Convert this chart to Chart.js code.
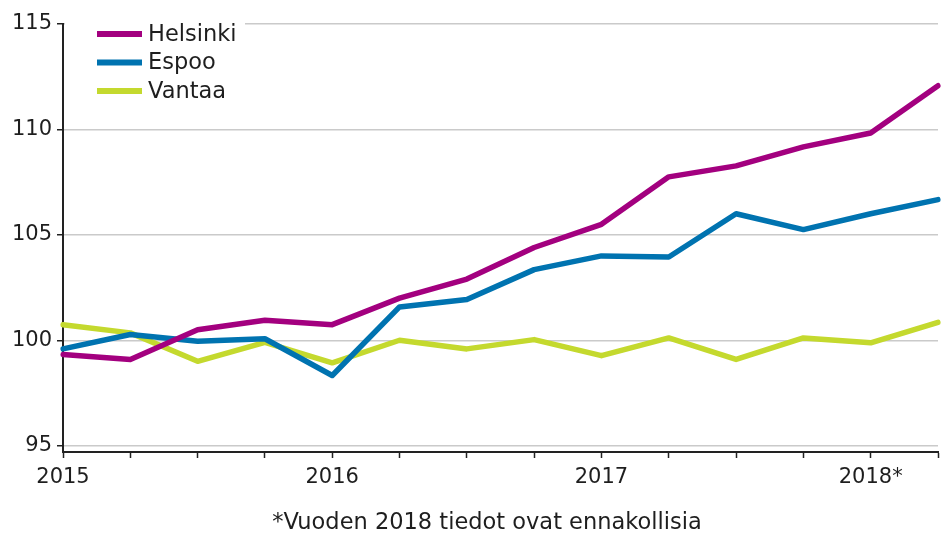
<!DOCTYPE html>
<html>
<head>
<meta charset="utf-8">
<script src="https://cdn.jsdelivr.net/npm/chart.js@4/dist/chart.umd.min.js"></script>
<style>
  html, body { margin: 0; padding: 0; background: #fff; }
  #wrap { width: 949px; height: 545px; }
</style>
</head>
<body>
<div id="wrap"><canvas id="chart" width="949" height="545"></canvas></div>
<script>
// quarterly index, 2015Q1 .. 2018Q2
var quarters = ['2015Q1', '2015Q2', '2015Q3', '2015Q4', '2016Q1', '2016Q2', '2016Q3', '2016Q4',
                '2017Q1', '2017Q2', '2017Q3', '2017Q4', '2018Q1', '2018Q2'];
var tickLabels = ['2015', '', '', '', '2016', '', '', '', '2017', '', '', '', '2018*', ''];
var helsinki = [99.32, 99.09, 100.5, 100.95, 100.74, 102.0, 102.9, 104.4, 105.5, 107.75, 108.27, 109.17, 109.83, 112.07];
var espoo = [99.59, 100.27, 99.95, 100.07, 98.33, 101.58, 101.93, 103.35, 104.0, 103.95, 106.0, 105.25, 106.0, 106.67];
var vantaa = [100.74, 100.35, 99.0, 99.9, 98.93, 100.0, 99.59, 100.03, 99.27, 100.11, 99.09, 100.11, 99.88, 100.85];
var yTicks = [95, 100, 105, 110, 115];
var footnote = '*Vuoden 2018 tiedot ovat ennakollisia';

var FONT = 'DejaVu Sans';
var TEXT = '#1e1e1e';

var overlay = {
    id: 'overlay',
    afterDraw: function(chart) {
        var ctx = chart.ctx;
        var area = chart.chartArea;
        ctx.save();
        // legend box sits over the top gridline
        ctx.fillStyle = '#ffffff';
        ctx.fillRect(area.left + 2, 14, 180, 95);
        ctx.font = '22.5px "' + FONT + '"';
        ctx.textBaseline = 'middle';
        chart.data.datasets.forEach(function(ds, i) {
            var y = 34 + i * 28.5;
            ctx.strokeStyle = ds.borderColor;
            ctx.lineWidth = 6;
            ctx.beginPath();
            ctx.moveTo(97, y);
            ctx.lineTo(142, y);
            ctx.stroke();
            ctx.fillStyle = TEXT;
            ctx.fillText(ds.label, 148, y + 1);
        });
        ctx.textAlign = 'center';
        ctx.font = '22.5px "' + FONT + '"';
        ctx.fillText(footnote, 487, 523);
        ctx.restore();
    }
};

var ctx = document.getElementById('chart').getContext('2d');
var chart = new Chart(ctx, {
    type: 'line',
    data: {
        labels: quarters,
        datasets: [
            { label: 'Helsinki', data: helsinki, borderColor: '#a3007f' },
            { label: 'Espoo', data: espoo, borderColor: '#0073b0' },
            { label: 'Vantaa', data: vantaa, borderColor: '#c4d92e' }
        ]
    },
    options: {
        responsive: false,
        animation: false,
        layout: { padding: { top: 24, right: 11, left: 0, bottom: 0 } },
        elements: {
            point: { radius: 0 },
            line: { borderWidth: 5.5, tension: 0, borderJoinStyle: 'round', borderCapStyle: 'round' }
        },
        plugins: {
            legend: { display: false },
            tooltip: { enabled: false }
        },
        scales: {
            x: {
                offset: false,
                grid: { drawOnChartArea: false, tickLength: 6, tickColor: '#222', tickWidth: 1.5 },
                border: { display: true, color: '#222', width: 2 },
                ticks: {
                    autoSkip: false,
                    maxRotation: 0,
                    padding: 7,
                    color: TEXT,
                    font: { family: FONT, size: 21 },
                    callback: function(v, i) { return tickLabels[i]; }
                },
                afterFit: function(scale) { scale.height = 93; }
            },
            y: {
                min: 94.7,
                max: 115,
                afterBuildTicks: function(scale) {
                    scale.ticks = yTicks.map(function(v) { return { value: v }; });
                },
                grid: { color: '#cacaca', lineWidth: 1.5, tickLength: 6, tickColor: '#222', tickWidth: 1.5 },
                border: { display: true, color: '#222', width: 2 },
                ticks: {
                    padding: 5,
                    color: TEXT,
                    font: { family: FONT, size: 21 }
                },
                afterFit: function(scale) { scale.width = 63; }
            }
        }
    },
    plugins: [overlay]
});
</script>
</body>
</html>
